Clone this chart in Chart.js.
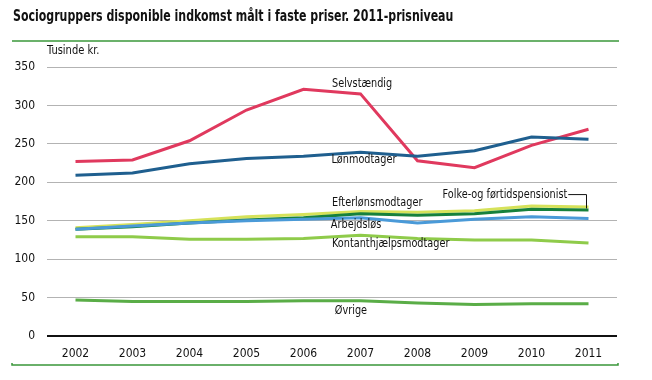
<!DOCTYPE html>
<html><head><meta charset="utf-8">
<script src="https://cdn.jsdelivr.net/npm/chart.js@4.4.1/dist/chart.umd.min.js"></script>
<style>html,body{margin:0;padding:0;background:#fff}#wrap{width:652px;height:380px;position:relative}</style>
</head><body><div id="wrap"><canvas id="c" width="652" height="380"></canvas></div>
<script>
const years = ['2002','2003','2004','2005','2006','2007','2008','2009','2010','2011'];
const selvstaendig = [227,229,254,294,321,315,228,219,248,269];
const loenmodtager = [209,212,224,231,234,239,234,241,259,256];
const efterloen = [141,145,150,155,158,162,161,163,169,168];
const folke = [139,142,147,151,154,159,157,159,165,164];
const arbejdsloes = [139,143,147,150,152,154,147,152,155,153];
const kontant = [129,129,126,126,127,131,127,125,125,121];
const oevrige = [47,45,45,45,46,46,43,41,42,42];
const yTicks = [0,50,100,150,200,250,300,350];

const FONT = "'Liberation Sans Narrow','DejaVu Sans Condensed',sans-serif";
const series = [
  {label:'Øvrige', data:oevrige, color:'#5aad47'},
  {label:'Kontanthjælpsmodtager', data:kontant, color:'#8fcb4a'},
  {label:'Arbejdsløs', data:arbejdsloes, color:'#4a9ad8'},
  {label:'Folke-og førtidspensionist', data:folke, color:'#16813c'},
  {label:'Efterlønsmodtager', data:efterloen, color:'#d6e25a'},
  {label:'Lønmodtager', data:loenmodtager, color:'#1f5f8f'},
  {label:'Selvstændig', data:selvstaendig, color:'#e0395e'}
];
// label anchors: [text, x index, y value]
const labels = [
  ['Selvstændig', 4.5, 329],
  ['Lønmodtager', 4.49, 230],
  ['Efterlønsmodtager', 4.5, 174],
  ['Folke-og førtidspensionist', 6.44, 184],
  ['Arbejdsløs', 4.48, 145],
  ['Kontanthjælpsmodtager', 4.5, 120],
  ['Øvrige', 4.55, 33]
];

function condensedText(ctx, text, x, y, sx){
  ctx.save();
  ctx.translate(x, y);
  ctx.scale(sx, 1);
  ctx.fillText(text, 0, 0);
  ctx.restore();
  return ctx.measureText(text).width * sx;
}

const deco = {
  id:'deco',
  afterDraw(chart){
    const ctx = chart.ctx;
    const xs = chart.scales.x, ys = chart.scales.y;
    ctx.save();
    ctx.fillStyle = '#111';
    ctx.textBaseline = 'middle';
    ctx.textAlign = 'left';
    ctx.font = "bold 15px " + FONT;
    condensedText(ctx, 'Sociogruppers disponible indkomst målt i faste priser. 2011-prisniveau', 13, 17, 0.815);
    ctx.strokeStyle = '#3a973a';
    ctx.lineWidth = 1.5;
    ctx.beginPath(); ctx.moveTo(12, 41); ctx.lineTo(619, 41); ctx.stroke();
    ctx.beginPath(); ctx.moveTo(12, 363); ctx.lineTo(12, 365); ctx.lineTo(618, 365); ctx.lineTo(618, 363); ctx.stroke();
    ctx.font = "12px " + FONT;
    condensedText(ctx, 'Tusinde kr.', 47, 51, 0.92);
    ctx.font = "13px " + FONT;
    let folkeEnd = 0;
    labels.forEach(([t, xi, yv]) => {
      const px = xs.getPixelForValue(xi);
      const w = condensedText(ctx, t, px, ys.getPixelForValue(yv), 0.83);
      if (t.startsWith('Folke')) folkeEnd = px + w + 1;
    });
    // leader line for Folke
    const fy = ys.getPixelForValue(184);
    const ex = xs.getPixelForValue(9) - 2;
    ctx.strokeStyle = '#111'; ctx.lineWidth = 1;
    ctx.beginPath(); ctx.moveTo(folkeEnd, fy); ctx.lineTo(ex, fy); ctx.lineTo(ex, ys.getPixelForValue(166)); ctx.stroke();
    ctx.restore();
  }
};

new Chart(document.getElementById('c'), {
  type:'line',
  data:{labels:years, datasets:series.map(s=>({label:s.label, data:s.data, borderColor:s.color, backgroundColor:s.color, borderWidth:3, pointRadius:0, tension:0, fill:false}))},
  options:{
    responsive:false, animation:false,
    layout:{padding:{left:0, right:35, top:67, bottom:14}},
    plugins:{legend:{display:false}, tooltip:{enabled:false}, title:{display:false}},
    scales:{
      x:{
        offset:true,
        grid:{display:false, drawTicks:false},
        border:{display:false},
        ticks:{color:'#111', font:{family:FONT, size:12}, padding:11, maxRotation:0, autoSkip:false},
        afterFit(s){ s.height = 30; }
      },
      y:{
        min:0, max:350,
        afterBuildTicks(s){ s.ticks = yTicks.map(v=>({value:v})); },
        grid:{drawTicks:false, color:c=>c.tick && c.tick.value===0 ? '#111' : '#b3b3b3', lineWidth:c=>c.tick && c.tick.value===0 ? 2 : 1},
        border:{display:false},
        ticks:{color:'#111', font:{family:FONT, size:12}, padding:12},
        afterFit(s){ s.width = 47; }
      }
    }
  },
  plugins:[deco]
});
</script>
</body></html>
